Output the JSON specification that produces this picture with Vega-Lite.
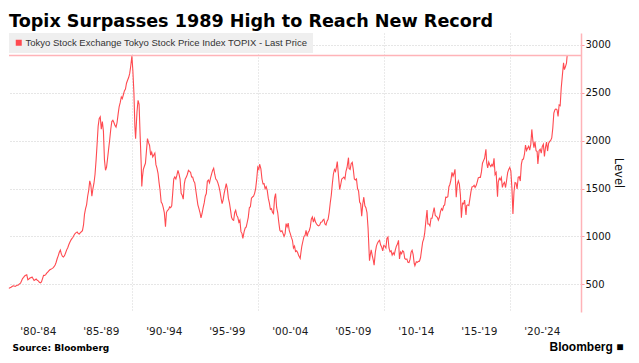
{
  "$schema": "https://vega.github.io/schema/vega-lite/v6.json",
  "autosize": {"type": "none"},
  "width": 572,
  "height": 279,
  "padding": {"left": 9, "top": 33, "right": 58, "bottom": 51},
  "background": "white",
  "config": {"view": {"stroke": null}, "font": "DejaVu Sans"},
  "title": {"text": "Topix Surpasses 1989 High to Reach New Record", "anchor": "start", "frame": "group", "font": "DejaVu Sans", "fontWeight": "bold", "fontSize": 17.6, "color": "#000000", "offset": 8, "baseline": "alphabetic", "dy": 20},
  "data": {"values": [
{"d":"1980-03-15","v":458},{"d":"1980-04-15","v":465},{"d":"1980-05-15","v":470},{"d":"1980-06-15","v":478},{"d":"1980-07-15","v":485},{"d":"1980-08-15","v":482},{"d":"1980-09-15","v":478},{"d":"1980-10-15","v":486},{"d":"1980-11-15","v":490},{"d":"1980-12-15","v":494},
{"d":"1981-01-15","v":505},{"d":"1981-02-15","v":512},{"d":"1981-03-15","v":535},{"d":"1981-04-15","v":560},{"d":"1981-05-15","v":572},{"d":"1981-06-15","v":588},{"d":"1981-07-15","v":594},{"d":"1981-08-15","v":600},{"d":"1981-09-15","v":548},{"d":"1981-10-15","v":556},{"d":"1981-11-15","v":566},{"d":"1981-12-15","v":570},
{"d":"1982-01-15","v":576},{"d":"1982-02-15","v":558},{"d":"1982-03-15","v":540},{"d":"1982-04-15","v":548},{"d":"1982-05-15","v":556},{"d":"1982-06-15","v":542},{"d":"1982-07-15","v":536},{"d":"1982-08-15","v":522},{"d":"1982-09-15","v":516},{"d":"1982-10-15","v":524},{"d":"1982-11-15","v":560},{"d":"1982-12-15","v":593},
{"d":"1983-01-15","v":592},{"d":"1983-02-15","v":602},{"d":"1983-03-15","v":616},{"d":"1983-04-15","v":628},{"d":"1983-05-15","v":640},{"d":"1983-06-15","v":652},{"d":"1983-07-15","v":658},{"d":"1983-08-15","v":664},{"d":"1983-09-15","v":672},{"d":"1983-10-15","v":684},{"d":"1983-11-15","v":702},{"d":"1983-12-15","v":731},
{"d":"1984-01-15","v":770},{"d":"1984-02-15","v":800},{"d":"1984-03-15","v":835},{"d":"1984-04-15","v":858},{"d":"1984-05-15","v":815},{"d":"1984-06-15","v":792},{"d":"1984-07-15","v":785},{"d":"1984-08-15","v":800},{"d":"1984-09-15","v":830},{"d":"1984-10-15","v":860},{"d":"1984-11-15","v":882},{"d":"1984-12-15","v":913},
{"d":"1985-01-15","v":940},{"d":"1985-02-15","v":962},{"d":"1985-03-15","v":977},{"d":"1985-04-15","v":992},{"d":"1985-05-15","v":1012},{"d":"1985-06-15","v":1030},{"d":"1985-07-15","v":1040},{"d":"1985-08-15","v":1046},{"d":"1985-09-15","v":1030},{"d":"1985-10-15","v":1025},{"d":"1985-11-15","v":1040},{"d":"1985-12-15","v":1049},
{"d":"1986-01-15","v":1060},{"d":"1986-02-15","v":1120},{"d":"1986-03-15","v":1230},{"d":"1986-04-15","v":1290},{"d":"1986-05-15","v":1330},{"d":"1986-06-15","v":1420},{"d":"1986-07-15","v":1480},{"d":"1986-08-15","v":1580},{"d":"1986-09-15","v":1540},{"d":"1986-10-15","v":1420},{"d":"1986-11-15","v":1500},{"d":"1986-12-15","v":1556},
{"d":"1987-01-15","v":1650},{"d":"1987-02-15","v":1800},{"d":"1987-03-15","v":1960},{"d":"1987-04-15","v":2150},{"d":"1987-05-15","v":2230},{"d":"1987-06-15","v":2250},{"d":"1987-07-15","v":2120},{"d":"1987-08-15","v":2200},{"d":"1987-09-15","v":2100},{"d":"1987-10-15","v":1800},{"d":"1987-11-15","v":1691},{"d":"1987-12-15","v":1725},
{"d":"1988-01-15","v":1820},{"d":"1988-02-15","v":1920},{"d":"1988-03-15","v":2010},{"d":"1988-04-15","v":2120},{"d":"1988-05-15","v":2200},{"d":"1988-06-15","v":2213},{"d":"1988-07-15","v":2190},{"d":"1988-08-15","v":2160},{"d":"1988-09-15","v":2143},{"d":"1988-10-15","v":2190},{"d":"1988-11-15","v":2280},{"d":"1988-12-15","v":2357},
{"d":"1989-01-15","v":2400},{"d":"1989-02-15","v":2457},{"d":"1989-03-15","v":2440},{"d":"1989-04-15","v":2480},{"d":"1989-05-15","v":2520},{"d":"1989-06-15","v":2540},{"d":"1989-07-15","v":2600},{"d":"1989-08-15","v":2631},{"d":"1989-09-15","v":2660},{"d":"1989-10-15","v":2700},{"d":"1989-11-15","v":2780},{"d":"1989-12-18","v":2884},
{"d":"1990-01-15","v":2736},{"d":"1990-02-15","v":2500},{"d":"1990-03-15","v":2150},{"d":"1990-04-05","v":2020},{"d":"1990-05-15","v":2300},{"d":"1990-06-15","v":2422},{"d":"1990-07-15","v":2380},{"d":"1990-08-15","v":2050},{"d":"1990-09-15","v":1750},{"d":"1990-10-01","v":1523},{"d":"1990-10-20","v":1620},{"d":"1990-11-15","v":1700},{"d":"1990-12-15","v":1733},
{"d":"1991-01-15","v":1764},{"d":"1991-02-15","v":1900},{"d":"1991-03-15","v":2022},{"d":"1991-04-15","v":1980},{"d":"1991-05-15","v":1950},{"d":"1991-06-15","v":1850},{"d":"1991-07-15","v":1880},{"d":"1991-08-15","v":1830},{"d":"1991-09-15","v":1850},{"d":"1991-10-15","v":1870},{"d":"1991-11-15","v":1750},{"d":"1991-12-15","v":1714},
{"d":"1992-01-15","v":1660},{"d":"1992-02-15","v":1560},{"d":"1992-03-15","v":1480},{"d":"1992-04-15","v":1360},{"d":"1992-05-15","v":1343},{"d":"1992-06-15","v":1300},{"d":"1992-07-15","v":1250},{"d":"1992-08-18","v":1102},{"d":"1992-09-15","v":1250},{"d":"1992-10-15","v":1273},{"d":"1992-11-15","v":1280},{"d":"1992-12-15","v":1308},
{"d":"1993-01-15","v":1300},{"d":"1993-02-15","v":1320},{"d":"1993-03-15","v":1450},{"d":"1993-04-15","v":1600},{"d":"1993-05-15","v":1621},{"d":"1993-06-15","v":1600},{"d":"1993-07-15","v":1640},{"d":"1993-08-15","v":1691},{"d":"1993-09-15","v":1650},{"d":"1993-10-15","v":1600},{"d":"1993-11-15","v":1450},{"d":"1993-12-15","v":1430},
{"d":"1994-01-15","v":1390},{"d":"1994-02-15","v":1550},{"d":"1994-03-15","v":1600},{"d":"1994-04-15","v":1620},{"d":"1994-05-15","v":1650},{"d":"1994-06-15","v":1691},{"d":"1994-07-15","v":1680},{"d":"1994-08-15","v":1670},{"d":"1994-09-15","v":1621},{"d":"1994-10-15","v":1620},{"d":"1994-11-15","v":1580},{"d":"1994-12-15","v":1560},
{"d":"1995-01-15","v":1480},{"d":"1995-02-15","v":1400},{"d":"1995-03-15","v":1330},{"d":"1995-04-15","v":1290},{"d":"1995-05-15","v":1250},{"d":"1995-06-13","v":1193},{"d":"1995-07-15","v":1240},{"d":"1995-08-15","v":1300},{"d":"1995-09-15","v":1350},{"d":"1995-10-15","v":1420},{"d":"1995-11-15","v":1448},{"d":"1995-12-15","v":1577},
{"d":"1996-01-15","v":1590},{"d":"1996-02-15","v":1560},{"d":"1996-03-15","v":1610},{"d":"1996-04-15","v":1650},{"d":"1996-05-15","v":1690},{"d":"1996-06-15","v":1712},{"d":"1996-07-15","v":1650},{"d":"1996-08-15","v":1600},{"d":"1996-09-15","v":1587},{"d":"1996-10-15","v":1560},{"d":"1996-11-15","v":1520},{"d":"1996-12-15","v":1470},
{"d":"1997-01-15","v":1400},{"d":"1997-02-15","v":1343},{"d":"1997-03-15","v":1380},{"d":"1997-04-15","v":1450},{"d":"1997-05-15","v":1500},{"d":"1997-06-15","v":1552},{"d":"1997-07-15","v":1500},{"d":"1997-08-15","v":1400},{"d":"1997-09-15","v":1350},{"d":"1997-10-15","v":1280},{"d":"1997-11-15","v":1200},{"d":"1997-12-15","v":1175},
{"d":"1998-01-15","v":1169},{"d":"1998-02-15","v":1250},{"d":"1998-03-15","v":1273},{"d":"1998-04-15","v":1220},{"d":"1998-05-15","v":1200},{"d":"1998-06-15","v":1150},{"d":"1998-07-15","v":1170},{"d":"1998-08-15","v":1050},{"d":"1998-09-15","v":1030},{"d":"1998-10-09","v":980},{"d":"1998-11-15","v":1050},{"d":"1998-12-15","v":1087},
{"d":"1999-01-15","v":1100},{"d":"1999-02-15","v":1151},{"d":"1999-03-15","v":1200},{"d":"1999-04-15","v":1300},{"d":"1999-05-15","v":1310},{"d":"1999-06-15","v":1400},{"d":"1999-07-15","v":1412},{"d":"1999-08-15","v":1420},{"d":"1999-09-15","v":1450},{"d":"1999-10-15","v":1500},{"d":"1999-11-15","v":1600},{"d":"1999-12-15","v":1722},
{"d":"2000-01-15","v":1700},{"d":"2000-02-07","v":1754},{"d":"2000-03-15","v":1705},{"d":"2000-04-15","v":1600},{"d":"2000-05-15","v":1550},{"d":"2000-06-15","v":1552},{"d":"2000-07-15","v":1500},{"d":"2000-08-15","v":1520},{"d":"2000-09-15","v":1482},{"d":"2000-10-15","v":1400},{"d":"2000-11-15","v":1350},{"d":"2000-12-15","v":1283},
{"d":"2001-01-15","v":1290},{"d":"2001-02-15","v":1250},{"d":"2001-03-15","v":1239},{"d":"2001-04-15","v":1400},{"d":"2001-05-15","v":1448},{"d":"2001-06-15","v":1300},{"d":"2001-07-15","v":1250},{"d":"2001-08-15","v":1150},{"d":"2001-09-15","v":1064},{"d":"2001-10-15","v":1050},{"d":"2001-11-15","v":1060},{"d":"2001-12-15","v":1032},
{"d":"2002-01-15","v":1000},{"d":"2002-02-15","v":1030},{"d":"2002-03-15","v":1134},{"d":"2002-04-15","v":1100},{"d":"2002-05-15","v":1140},{"d":"2002-06-15","v":1060},{"d":"2002-07-15","v":1030},{"d":"2002-08-15","v":990},{"d":"2002-09-15","v":960},{"d":"2002-10-15","v":880},{"d":"2002-11-15","v":900},{"d":"2002-12-15","v":843},
{"d":"2003-01-15","v":850},{"d":"2003-02-15","v":830},{"d":"2003-03-15","v":800},{"d":"2003-04-28","v":770},{"d":"2003-05-15","v":820},{"d":"2003-06-15","v":900},{"d":"2003-07-15","v":950},{"d":"2003-08-15","v":1000},{"d":"2003-09-15","v":1010},{"d":"2003-10-15","v":1064},{"d":"2003-11-15","v":1000},{"d":"2003-12-15","v":1043},
{"d":"2004-01-15","v":1060},{"d":"2004-02-15","v":1100},{"d":"2004-03-15","v":1180},{"d":"2004-04-15","v":1203},{"d":"2004-05-15","v":1150},{"d":"2004-06-15","v":1190},{"d":"2004-07-15","v":1150},{"d":"2004-08-15","v":1130},{"d":"2004-09-15","v":1116},{"d":"2004-10-15","v":1110},{"d":"2004-11-15","v":1120},{"d":"2004-12-15","v":1149},
{"d":"2005-01-15","v":1150},{"d":"2005-02-15","v":1170},{"d":"2005-03-15","v":1180},{"d":"2005-04-15","v":1130},{"d":"2005-05-15","v":1120},{"d":"2005-06-15","v":1160},{"d":"2005-07-15","v":1180},{"d":"2005-08-15","v":1250},{"d":"2005-09-15","v":1350},{"d":"2005-10-15","v":1430},{"d":"2005-11-15","v":1550},{"d":"2005-12-15","v":1650},
{"d":"2006-01-15","v":1700},{"d":"2006-02-15","v":1680},{"d":"2006-03-15","v":1730},{"d":"2006-04-07","v":1783},{"d":"2006-05-15","v":1620},{"d":"2006-06-15","v":1490},{"d":"2006-07-15","v":1540},{"d":"2006-08-15","v":1600},{"d":"2006-09-15","v":1610},{"d":"2006-10-15","v":1620},{"d":"2006-11-15","v":1600},{"d":"2006-12-15","v":1681},
{"d":"2007-01-15","v":1720},{"d":"2007-02-26","v":1823},{"d":"2007-03-15","v":1710},{"d":"2007-04-15","v":1700},{"d":"2007-05-15","v":1760},{"d":"2007-06-15","v":1774},{"d":"2007-07-15","v":1700},{"d":"2007-08-15","v":1600},{"d":"2007-09-15","v":1590},{"d":"2007-10-15","v":1600},{"d":"2007-11-15","v":1500},{"d":"2007-12-15","v":1475},
{"d":"2008-01-15","v":1360},{"d":"2008-02-15","v":1340},{"d":"2008-03-15","v":1212},{"d":"2008-04-15","v":1340},{"d":"2008-05-15","v":1410},{"d":"2008-06-15","v":1320},{"d":"2008-07-15","v":1300},{"d":"2008-08-15","v":1250},{"d":"2008-09-15","v":1090},{"d":"2008-10-27","v":746},{"d":"2008-11-15","v":800},{"d":"2008-12-15","v":860},
{"d":"2009-01-15","v":800},{"d":"2009-02-15","v":750},{"d":"2009-03-10","v":701},{"d":"2009-04-15","v":837},{"d":"2009-05-15","v":900},{"d":"2009-06-15","v":930},{"d":"2009-07-15","v":950},{"d":"2009-08-15","v":960},{"d":"2009-09-15","v":910},{"d":"2009-10-15","v":890},{"d":"2009-11-15","v":850},{"d":"2009-12-15","v":907},
{"d":"2010-01-15","v":900},{"d":"2010-02-15","v":880},{"d":"2010-03-15","v":978},{"d":"2010-04-15","v":994},{"d":"2010-05-15","v":880},{"d":"2010-06-15","v":840},{"d":"2010-07-15","v":850},{"d":"2010-08-15","v":805},{"d":"2010-09-15","v":830},{"d":"2010-10-15","v":810},{"d":"2010-11-15","v":860},{"d":"2010-12-15","v":899},
{"d":"2011-01-15","v":920},{"d":"2011-02-15","v":960},{"d":"2011-03-15","v":766},{"d":"2011-04-15","v":837},{"d":"2011-05-15","v":820},{"d":"2011-06-15","v":850},{"d":"2011-07-15","v":840},{"d":"2011-08-15","v":770},{"d":"2011-09-15","v":760},{"d":"2011-10-15","v":765},{"d":"2011-11-15","v":730},{"d":"2011-12-15","v":728},
{"d":"2012-01-15","v":760},{"d":"2012-02-15","v":835},{"d":"2012-03-15","v":855},{"d":"2012-04-15","v":810},{"d":"2012-05-15","v":720},{"d":"2012-06-04","v":695},{"d":"2012-07-15","v":735},{"d":"2012-08-15","v":730},{"d":"2012-09-15","v":740},{"d":"2012-10-15","v":742},{"d":"2012-11-15","v":780},{"d":"2012-12-15","v":860},
{"d":"2013-01-15","v":940},{"d":"2013-02-15","v":975},{"d":"2013-03-15","v":1034},{"d":"2013-04-15","v":1150},{"d":"2013-05-22","v":1276},{"d":"2013-06-15","v":1130},{"d":"2013-07-15","v":1130},{"d":"2013-08-15","v":1110},{"d":"2013-09-15","v":1190},{"d":"2013-10-15","v":1190},{"d":"2013-11-15","v":1250},{"d":"2013-12-15","v":1302},
{"d":"2014-01-15","v":1220},{"d":"2014-02-15","v":1210},{"d":"2014-03-15","v":1200},{"d":"2014-04-15","v":1170},{"d":"2014-05-15","v":1200},{"d":"2014-06-15","v":1260},{"d":"2014-07-15","v":1290},{"d":"2014-08-15","v":1275},{"d":"2014-09-15","v":1320},{"d":"2014-10-15","v":1330},{"d":"2014-11-15","v":1410},{"d":"2014-12-15","v":1408},
{"d":"2015-01-15","v":1415},{"d":"2015-02-15","v":1520},{"d":"2015-03-15","v":1543},{"d":"2015-04-15","v":1590},{"d":"2015-05-15","v":1670},{"d":"2015-06-15","v":1630},{"d":"2015-07-15","v":1660},{"d":"2015-08-10","v":1702},{"d":"2015-09-15","v":1410},{"d":"2015-10-15","v":1540},{"d":"2015-11-15","v":1580},{"d":"2015-12-15","v":1547},
{"d":"2016-01-15","v":1430},{"d":"2016-02-12","v":1196},{"d":"2016-03-15","v":1347},{"d":"2016-04-15","v":1340},{"d":"2016-05-15","v":1380},{"d":"2016-06-24","v":1225},{"d":"2016-07-15","v":1322},{"d":"2016-08-15","v":1330},{"d":"2016-09-15","v":1322},{"d":"2016-10-15","v":1393},{"d":"2016-11-15","v":1469},{"d":"2016-12-15","v":1518},
{"d":"2017-01-15","v":1521},{"d":"2017-02-15","v":1535},{"d":"2017-03-15","v":1512},{"d":"2017-04-15","v":1531},{"d":"2017-05-15","v":1568},{"d":"2017-06-15","v":1611},{"d":"2017-07-15","v":1618},{"d":"2017-08-15","v":1617},{"d":"2017-09-15","v":1674},{"d":"2017-10-15","v":1765},{"d":"2017-11-15","v":1792},{"d":"2017-12-15","v":1817},
{"d":"2018-01-23","v":1911},{"d":"2018-02-15","v":1768},{"d":"2018-03-15","v":1716},{"d":"2018-04-15","v":1777},{"d":"2018-05-15","v":1747},{"d":"2018-06-15","v":1730},{"d":"2018-07-15","v":1753},{"d":"2018-08-15","v":1735},{"d":"2018-09-15","v":1817},{"d":"2018-10-15","v":1646},{"d":"2018-11-15","v":1667},{"d":"2018-12-25","v":1416},
{"d":"2019-01-15","v":1567},{"d":"2019-02-15","v":1607},{"d":"2019-03-15","v":1591},{"d":"2019-04-15","v":1617},{"d":"2019-05-15","v":1512},{"d":"2019-06-15","v":1551},{"d":"2019-07-15","v":1565},{"d":"2019-08-15","v":1511},{"d":"2019-09-15","v":1587},{"d":"2019-10-15","v":1667},{"d":"2019-11-15","v":1700},{"d":"2019-12-15","v":1721},
{"d":"2020-01-15","v":1684},{"d":"2020-02-15","v":1510},{"d":"2020-03-16","v":1236},{"d":"2020-04-15","v":1464},{"d":"2020-05-15","v":1563},{"d":"2020-06-15","v":1558},{"d":"2020-07-15","v":1496},{"d":"2020-08-15","v":1618},{"d":"2020-09-15","v":1625},{"d":"2020-10-15","v":1579},{"d":"2020-11-15","v":1754},{"d":"2020-12-15","v":1805},
{"d":"2021-01-15","v":1808},{"d":"2021-02-15","v":1864},{"d":"2021-03-15","v":1954},{"d":"2021-04-15","v":1898},{"d":"2021-05-15","v":1922},{"d":"2021-06-15","v":1943},{"d":"2021-07-15","v":1901},{"d":"2021-08-15","v":1960},{"d":"2021-09-14","v":2118},{"d":"2021-10-15","v":2001},{"d":"2021-11-15","v":1928},{"d":"2021-12-15","v":1992},
{"d":"2022-01-15","v":1895},{"d":"2022-02-15","v":1886},{"d":"2022-03-09","v":1758},{"d":"2022-04-15","v":1899},{"d":"2022-05-15","v":1912},{"d":"2022-06-15","v":1870},{"d":"2022-07-15","v":1940},{"d":"2022-08-15","v":1963},{"d":"2022-09-15","v":1835},{"d":"2022-10-15","v":1929},{"d":"2022-11-15","v":1985},{"d":"2022-12-15","v":1892},
{"d":"2023-01-15","v":1975},{"d":"2023-02-15","v":1993},{"d":"2023-03-15","v":2003},{"d":"2023-04-15","v":2029},{"d":"2023-05-15","v":2130},{"d":"2023-06-15","v":2289},{"d":"2023-07-15","v":2322},{"d":"2023-08-15","v":2332},{"d":"2023-09-15","v":2323},{"d":"2023-10-15","v":2254},{"d":"2023-11-15","v":2374},{"d":"2023-12-15","v":2366},
{"d":"2024-01-15","v":2551},{"d":"2024-02-15","v":2675},{"d":"2024-03-22","v":2814},{"d":"2024-04-15","v":2743},{"d":"2024-05-15","v":2772},{"d":"2024-06-15","v":2809},{"d":"2024-07-05","v":2890}
  ]},
  "layer": [
    {
      "mark": {"type": "line", "strokeWidth": 1.1, "interpolate": "linear"},
      "encoding": {
        "x": {"field": "d", "type": "temporal",
          "scale": {"domain": [{"year": 1980, "month": 3, "date": 18}, {"year": 2025, "month": 8, "date": 10}]},
          "axis": {"values": [{"year": 1982, "month": 7, "date": 1}, {"year": 1987, "month": 7, "date": 1}, {"year": 1992, "month": 7, "date": 1}, {"year": 1997, "month": 7, "date": 1}, {"year": 2002, "month": 7, "date": 1}, {"year": 2007, "month": 7, "date": 1}, {"year": 2012, "month": 7, "date": 1}, {"year": 2017, "month": 7, "date": 1}, {"year": 2022, "month": 7, "date": 1}],
            "labelExpr": "\"'\" + slice(toString(year(datum.value) - 2), 2) + \"-'\" + slice(toString(year(datum.value) + 2), 2)",
            "grid": false, "ticks": false, "tickSize": 0, "domain": false, "labelPadding": 14, "labelFont": "DejaVu Sans", "labelFontSize": 10.5, "labelColor": "#1a1a1a", "labelFlush": false, "labelOverlap": false,
            "title": "Source:  Bloomberg", "titleFont": "DejaVu Sans", "titleFontWeight": "bold", "titleFontSize": 9, "titleColor": "#000000", "titleX": 3, "titleY": 35, "titleAlign": "left", "titleBaseline": "middle", "titleAnchor": "start"}},
        "y": {"field": "v", "type": "quantitative",
          "scale": {"domain": [211, 3125], "nice": false, "zero": false},
          "axis": {"orient": "right", "values": [500, 1000, 1500, 2000, 2500, 3000], "format": "d", "grid": true, "gridColor": "#cccccc", "gridDash": [1, 2], "domainColor": "#ffb3b8", "domainWidth": 1.5, "tickColor": "#ff9aa0", "tickSize": 3, "labelPadding": 1, "labelFont": "DejaVu Sans", "labelFontSize": 10, "labelColor": "#111111",
            "title": "Level", "titleFont": "DejaVu Sans", "titleFontSize": 11.5, "titleFontWeight": "normal", "titleColor": "#111111", "titleAngle": 90, "titleX": 36, "titleY": 139.5, "titleAlign": "center", "titleBaseline": "middle"}},
        "color": {"datum": "Tokyo Stock Exchange Tokyo Stock Price Index TOPIX - Last Price", "scale": {"range": ["#ff4a50"]},
          "legend": {"orient": "top-left", "offset": 0, "padding": 5, "fillColor": "#efefef", "symbolType": "square", "symbolSize": 36, "symbolStrokeWidth": 0, "labelFont": "Liberation Sans", "labelFontSize": 9.5, "labelColor": "#333333", "labelLimit": 400, "labelOffset": 2, "title": null,
            "encode": {"symbols": {"update": {"fill": {"value": "#ff4a50"}, "stroke": {"value": "transparent"}}}}}}
      }
    },
    {
      "data": {"values": [{}]},
      "mark": {"type": "rule", "color": "#ffb3b8", "strokeWidth": 1.5},
      "encoding": {
        "x": {"datum": {"year": 1980, "month": 3, "date": 18}, "type": "temporal",
          "axis": {"orient": "bottom", "values": [{"year": 1990, "month": 1, "date": 1}, {"year": 2000, "month": 1, "date": 1}, {"year": 2010, "month": 1, "date": 1}, {"year": 2020, "month": 1, "date": 1}], "grid": true, "gridColor": "#d4d4d4", "gridDash": [1, 2], "labels": false, "ticks": false, "domain": false,
            "title": "Bloomberg ■", "titleFont": "Liberation Sans", "titleFontWeight": "bold", "titleFontSize": 12, "titleColor": "#000000", "titleX": 540, "titleY": 34, "titleAlign": "left", "titleBaseline": "middle"}},
        "x2": {"datum": {"year": 2025, "month": 8, "date": 10}},
        "y": {"datum": 2890, "type": "quantitative"}
      }
    }
  ],
  "resolve": {"axis": {"x": "independent"}}
}
